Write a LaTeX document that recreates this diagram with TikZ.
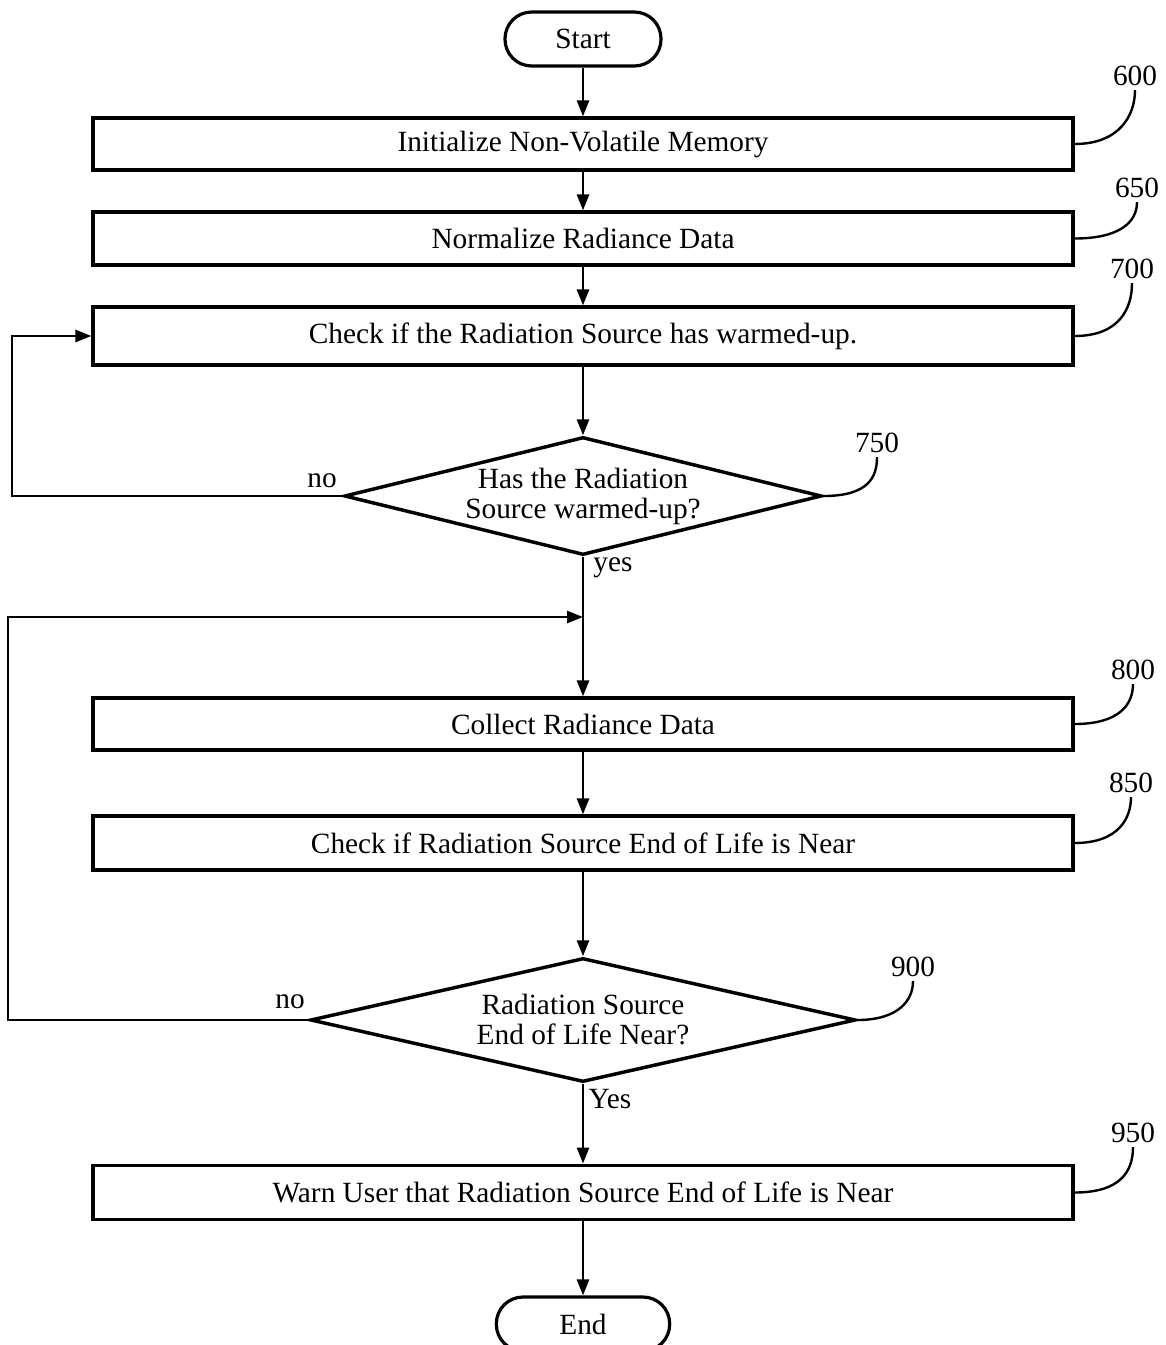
\documentclass[tikz,border=0pt]{standalone}
\usepackage{fontspec}
\setmainfont{Liberation Serif}
\usetikzlibrary{shapes.geometric,arrows.meta}
\begin{document}
\begin{tikzpicture}[x=0.75pt,y=0.75pt,yscale=-1,xscale=1,
  every node/.style={font=\fontsize{22}{24}\selectfont},
  stepbox/.style={draw,line width=2.4pt,minimum width=735pt,inner sep=0.75pt},
  termbox/.style={draw,line width=2.4pt,rounded corners=20pt,minimum height=40.5pt},
  decision/.style={draw,diamond,line width=2.6pt,aspect=4,inner sep=0pt,align=center,font=\fontsize{22}{22.5}\selectfont},
  flow/.style={line width=2pt,-{Triangle[length=12pt,width=9pt]}},
  lead/.style={line width=1.8pt},
  refnum/.style={inner sep=3pt}]
\useasboundingbox (0,0) rectangle (1166,1345);

%Shape: Terminal [id:start]
\node [termbox,minimum width=117pt] (start) at (583,39) {Start};
%Shape: Rectangle [id:600]
\node [stepbox,minimum height=39pt] (init) at (583,144) {Initialize Non-Volatile Memory};
%Shape: Rectangle [id:650]
\node [stepbox,minimum height=39.75pt] (norm) at (583,238.5) {Normalize Radiance Data};
%Shape: Rectangle [id:700]
\node [stepbox,minimum height=43.5pt] (warm) at (583,336) {Check if the Radiation Source has warmed-up.};
%Shape: Diamond [id:750]
\node [decision,minimum width=358pt,minimum height=88.5pt] (iswarm) at (583,496) {Has the Radiation\\Source warmed-up?};
\coordinate (join) at (583,617);
%Shape: Rectangle [id:800]
\node [stepbox,minimum height=39pt] (collect) at (583,724) {Collect Radiance Data};
%Shape: Rectangle [id:850]
\node [stepbox,minimum height=40.5pt] (eol) at (583,843) {Check if Radiation Source End of Life is Near};
%Shape: Diamond [id:900]
\node [decision,minimum width=409pt,minimum height=93pt] (isnear) at (583,1020) {Radiation Source\\End of Life Near?};
%Shape: Rectangle [id:950]
\node [stepbox,minimum height=41pt] (warn) at (583,1192.5) {Warn User that Radiation Source End of Life is Near};
%Shape: Terminal [id:end]
\node [termbox,minimum width=130pt] (end) at (583,1324) {End};

%Straight Lines
\draw [flow] (start) -- (init);
\draw [flow] (init) -- (norm);
\draw [flow] (norm) -- (warm);
\draw [flow] (warm) -- (iswarm);
\draw [line width=2pt] (iswarm) -- (join);
\draw [flow] (join) -- (collect);
\draw [flow] (collect) -- (eol);
\draw [flow] (eol) -- (isnear);
\draw [flow] (isnear) -- (warn);
\draw [flow] (warn) -- (end);
%Loop backs
\coordinate (back1) at (12,496);
\coordinate (back2) at (8,1020);
\draw [flow] (iswarm.west) -- (back1) |- (warm.west);
\draw [flow] (isnear.west) -- (back2) |- (join);

% Text Node
\node (no1) at (322,481) {no};
% Text Node
\node (yes1) at (613,568) {yes};
% Text Node
\node (no2) at (290,1002) {no};
% Text Node
\node (yes2) at (610,1099) {Yes};

%Reference numbers
\node [refnum] (r600) at (1135,76) {600};
\node [refnum] (r650) at (1137,188) {650};
\node [refnum] (r700) at (1132,269) {700};
\node [refnum] (r750) at (877,443) {750};
\node [refnum] (r800) at (1133,670) {800};
\node [refnum] (r850) at (1131,783) {850};
\node [refnum] (r900) at (913,967) {900};
\node [refnum] (r950) at (1133,1133) {950};
\draw [lead] (init.east) .. controls +(45,0) and +(0,25) .. (r600.south);
\draw [lead] (norm.east) .. controls +(45,0) and +(0,20) .. (r650.south);
\draw [lead] (warm.east) .. controls +(45,0) and +(0,25) .. (r700.south);
\draw [lead] (iswarm.east) .. controls +(45,0) and +(0,20) .. (r750.south);
\draw [lead] (collect.east) .. controls +(45,0) and +(0,20) .. (r800.south);
\draw [lead] (eol.east) .. controls +(45,0) and +(0,20) .. (r850.south);
\draw [lead] (isnear.east) .. controls +(40,0) and +(0,20) .. (r900.south);
\draw [lead] (warn.east) .. controls +(45,0) and +(0,25) .. (r950.south);

\end{tikzpicture}
\end{document}
